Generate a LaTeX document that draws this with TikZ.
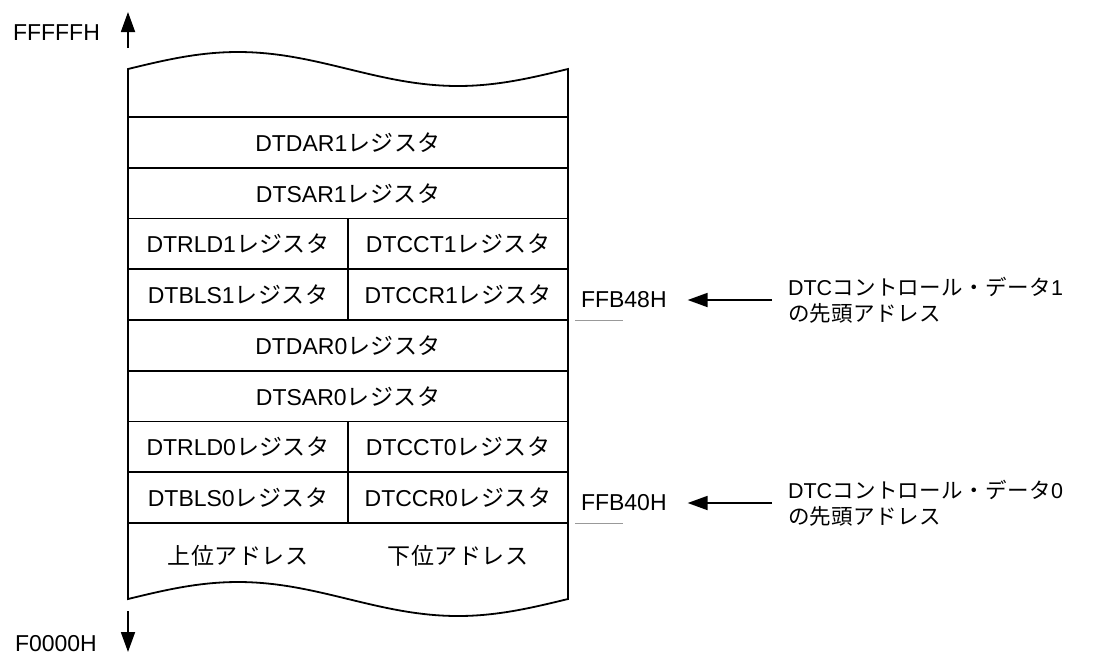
\documentclass[tikz,border=0pt]{standalone}
\usepackage{fontspec}
\setmainfont{Liberation Sans}
\newfontfamily\jp[LetterSpace=2]{Noto Sans CJK JP}
\usetikzlibrary{arrows.meta,positioning}
\tikzset{
  >={Triangle[length=20pt,width=14pt]},
  every node/.style={font=\fontsize{23}{26}\selectfont,inner sep=0pt,outer sep=0pt},
  full/.style={draw,line width=1.8pt,minimum width=440pt,minimum height=50.75pt},
  half/.style={full,minimum width=220pt},
  edge/.style={line width=1.8pt},
  addr/.style={anchor=west},
  desc/.style={anchor=west,align=left,font=\fontsize{21.5}{25.5}\selectfont},
  arrow/.style={->,line width=1.8pt},
  tick/.style={draw=gray!80,line width=1pt}
}

\begin{document}
\begin{tikzpicture}[x=1pt,y=-1pt]
  \useasboundingbox (0,0) rectangle (1094,657);

  % register rows, channel 1 then channel 0
  \node[full] (dar1) at (348,142.4) {DTDAR1{\jp レジスタ}};
  \node[full,below=0pt of dar1] (sar1) {DTSAR1{\jp レジスタ}};
  \node[half,below right=0pt of sar1.south west] (rld1) {DTRLD1{\jp レジスタ}};
  \node[half,right=0pt of rld1] (cct1) {DTCCT1{\jp レジスタ}};
  \node[half,below=0pt of rld1] (bls1) {DTBLS1{\jp レジスタ}};
  \node[half,right=0pt of bls1] (ccr1) {DTCCR1{\jp レジスタ}};
  \node[full,below right=0pt of bls1.south west] (dar0) {DTDAR0{\jp レジスタ}};
  \node[full,below=0pt of dar0] (sar0) {DTSAR0{\jp レジスタ}};
  \node[half,below right=0pt of sar0.south west] (rld0) {DTRLD0{\jp レジスタ}};
  \node[half,right=0pt of rld0] (cct0) {DTCCT0{\jp レジスタ}};
  \node[half,below=0pt of rld0] (bls0) {DTBLS0{\jp レジスタ}};
  \node[half,right=0pt of bls0] (ccr0) {DTCCR0{\jp レジスタ}};

  % torn ends of the map
  \draw[edge] (dar1.north west) -- (128,69)
    -- plot[domain=0:440,samples=80] ({128+\x},{69-17*sin(\x/440*360)})
    -- (dar1.north east);
  \draw[edge] (bls0.south west) -- (128,599)
    -- plot[domain=0:440,samples=80] ({128+\x},{599-17*sin(\x/440*360)})
    -- (ccr0.south east);
  \node (upper) at (238,556) {\jp 上位アドレス};
  \node (lower) at (458,556) {\jp 下位アドレス};

  % address direction
  \coordinate (hifoot) at (128,48);
  \coordinate (hitip) at (128,12);
  \draw[arrow] (hifoot) -- (hitip);
  \node[anchor=west] (hiaddr) at (13,33) {FFFFFH};
  \coordinate (lofoot) at (128,611);
  \coordinate (lotip) at (128,652);
  \draw[arrow] (lofoot) -- (lotip);
  \node[anchor=west] (loaddr) at (15,644) {F0000H};

  % start addresses of the control data
  \node[addr] (adr1) at (581,300) {FFB48H};
  \draw[tick] ([xshift=7pt]ccr1.south east) -- ++(48,0);
  \node[desc] (data1) at (788,300) {DTC{\jp コントロール・データ}1\\{\jp の先頭アドレス}};
  \draw[arrow,shorten <=16pt,shorten >=21pt] (data1.west) -- (data1.west -| adr1.east);

  \node[addr] (adr0) at (581,503) {FFB40H};
  \draw[tick] ([xshift=7pt]ccr0.south east) -- ++(48,0);
  \node[desc] (data0) at (788,503) {DTC{\jp コントロール・データ}0\\{\jp の先頭アドレス}};
  \draw[arrow,shorten <=16pt,shorten >=21pt] (data0.west) -- (data0.west -| adr0.east);
\end{tikzpicture}
\end{document}
